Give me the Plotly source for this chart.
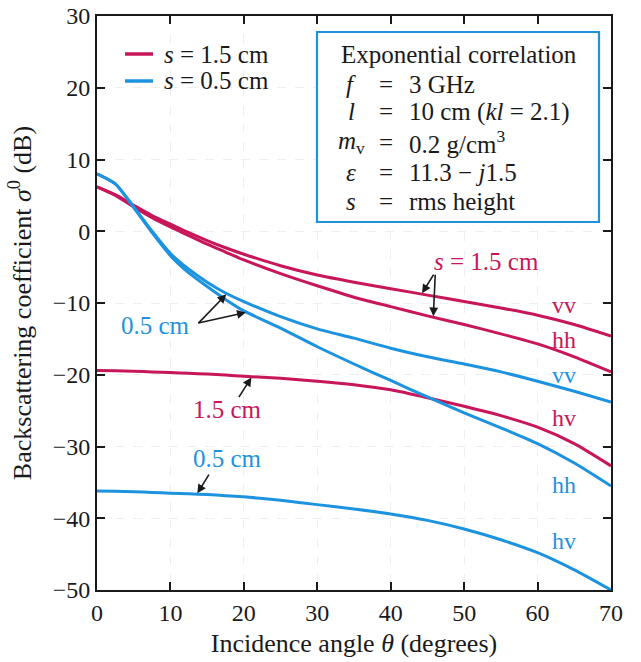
import numpy as np
import plotly.graph_objects as go

# Incidence angles (degrees) and backscattering coefficients (dB)
theta = [0, 2.5, 5, 7.5, 10, 12.5, 15, 17.5, 20, 25, 30, 35, 40, 45, 50, 55, 60, 65, 70]

# s = 1.5 cm
vv_15 = [6.2, 5.1, 3.6, 2.2, 1.0, -0.2, -1.3, -2.3, -3.2, -4.8, -6.1, -7.1, -8.0, -8.9, -9.8, -10.7, -11.7, -13.0, -14.6]
hh_15 = [6.2, 5.0, 3.4, 1.9, 0.6, -0.6, -1.8, -2.9, -4.0, -5.9, -7.6, -9.2, -10.5, -11.8, -13.0, -14.3, -15.7, -17.5, -19.6]
hv_15 = [-19.4, -19.45, -19.5, -19.6, -19.7, -19.8, -19.9, -20.05, -20.2, -20.5, -20.9, -21.4, -22.1, -23.2, -24.4, -25.7, -27.3, -29.6, -32.7]

# s = 0.5 cm
vv_05 = [8.0, 6.6, 3.4, 0.0, -3.1, -5.3, -7.1, -8.6, -9.8, -11.9, -13.6, -14.9, -16.3, -17.5, -18.5, -19.6, -20.9, -22.3, -23.8]
hh_05 = [8.0, 6.6, 3.3, -0.2, -3.4, -5.8, -7.7, -9.5, -11.1, -13.5, -16.1, -18.5, -20.8, -23.1, -25.3, -27.4, -29.6, -32.3, -35.5]
hv_05 = [-36.2, -36.25, -36.3, -36.4, -36.5, -36.6, -36.7, -36.85, -37.0, -37.5, -38.1, -38.7, -39.4, -40.3, -41.5, -43.0, -44.8, -47.2, -50.0]

x_ticks = [0, 10, 20, 30, 40, 50, 60, 70]
y_ticks = [-50, -40, -30, -20, -10, 0, 10, 20, 30]

RED = "#c8165a"
BLUE = "#1d93df"
INK = "#1a1a1a"
FONT = "Liberation Serif, Times New Roman, serif"
FS = 24
BOX_FS = 25

fig = go.Figure()

series = [
    (vv_15, RED), (hh_15, RED), (hv_15, RED),
    (vv_05, BLUE), (hh_05, BLUE), (hv_05, BLUE),
]
for vals, col in series:
    fig.add_trace(go.Scatter(
        x=theta, y=vals, mode="lines", showlegend=False,
        line=dict(color=col, width=3, shape="spline", smoothing=0.6),
    ))

annotations = []
shapes = []


def px_to_paper(px, py):
    # plot area spans 97..611 horizontally and 16..590 vertically
    return (px - 97) / 514, (590 - py) / 574


def paper_text(px, py, text, color=INK, xanchor="center", size=FS):
    x, y = px_to_paper(px, py)
    annotations.append(dict(x=x, y=y, xref="paper", yref="paper", text=text,
                            xanchor=xanchor, yanchor="middle", showarrow=False,
                            font=dict(family=FONT, size=size, color=color)))


# Legend (line swatches + labels)
for py, col, label in [(54, RED, "<i>s</i> = 1.5 cm"), (81, BLUE, "<i>s</i> = 0.5 cm")]:
    x0, y0 = px_to_paper(125, py)
    x1, _ = px_to_paper(153, py)
    shapes.append(dict(type="line", xref="paper", yref="paper", x0=x0, x1=x1, y0=y0, y1=y0,
                       line=dict(color=col, width=3.5)))
    paper_text(162, py, label, xanchor="left", size=BOX_FS)

# Polarization labels at the right end of the curves
for txt, col, yv in [("vv", RED, -10.3), ("hh", RED, -15.2), ("vv", BLUE, -20.0),
                     ("hv", RED, -26.0), ("hh", BLUE, -35.4), ("hv", BLUE, -43.2)]:
    annotations.append(dict(x=63.6, y=yv, text=txt, showarrow=False,
                            xanchor="center", yanchor="middle",
                            font=dict(family=FONT, size=FS, color=col)))

# Curve labels with pointer arrows
for xv, yv, txt, col in [(53.0, -4.2, "<i>s</i> = 1.5 cm", RED),
                         (7.9, -13.1, "0.5 cm", BLUE),
                         (17.8, -24.9, "1.5 cm", RED),
                         (17.8, -31.7, "0.5 cm", BLUE)]:
    annotations.append(dict(x=xv, y=yv, text=txt, showarrow=False,
                            xanchor="center", yanchor="middle",
                            font=dict(family=FONT, size=BOX_FS, color=col)))

arrows = [
    (44.2, vv_15, 13, -21),
    (45.8, hh_15, 2, -44),
    (17.7, vv_05, -30, 31),
    (20.4, hh_05, -50, 11),
    (21.1, hv_15, -14, 22),
    (13.6, hv_05, 13, -21),
]
for xa, vals, ax, ay in arrows:
    annotations.append(dict(x=xa, y=float(np.interp(xa, theta, vals)), ax=ax, ay=ay,
                            text="", showarrow=True, arrowhead=2, arrowsize=1.1,
                            arrowwidth=1.6, arrowcolor=INK, standoff=1))

# Parameter box
paper_text(459, 54, "Exponential correlation", size=BOX_FS)
rows = [
    ("<i>f</i>", "3 GHz"),
    ("<i>l</i>", "10 cm (<i>kl</i>\u00a0= 2.1)"),
    ("<i>m</i><sub>v</sub>", "0.2 g/cm<sup>3</sup>"),
    ("<i>ε</i>", "11.3 − <i>j</i>1.5"),
    ("<i>s</i>", "rms height"),
]
row_y = [84, 112, 142, 172, 201]
for (sym, val), ry in zip(rows, row_y):
    paper_text(351, ry, sym, size=BOX_FS)
    paper_text(386, ry, "=", size=BOX_FS)
    paper_text(407, ry, val, xanchor="left", size=BOX_FS)

bx0, by0 = px_to_paper(317, 222)
bx1, by1 = px_to_paper(599, 32)
shapes.append(dict(type="rect", xref="paper", yref="paper", x0=bx0, y0=by0, x1=bx1, y1=by1,
                   line=dict(color=BLUE, width=2.2), fillcolor="white", layer="above"))

axis_common = dict(
    showline=True, linecolor=INK, linewidth=2, mirror="ticks",
    ticks="inside", ticklen=8, tickwidth=2, tickcolor=INK,
    tickfont=dict(family=FONT, size=FS, color=INK),
    showgrid=True, gridcolor="#efefef", griddash="dash", gridwidth=1,
    zeroline=False, automargin=False,
)

fig.update_layout(
    width=641, height=662,
    margin=dict(l=97, r=30, t=16, b=72),
    paper_bgcolor="white", plot_bgcolor="white",
    showlegend=False,
    xaxis=dict(range=[0, 70], tickvals=x_ticks,
               title=dict(text="Incidence angle <i>θ</i> (degrees)", standoff=9,
                          font=dict(family=FONT, size=26, color=INK)),
               **axis_common),
    yaxis=dict(range=[-50, 30], tickvals=y_ticks,
               ticktext=[str(v).replace("-", "−") for v in y_ticks],
               title=dict(text="Backscattering coefficient <i>σ</i><sup>0</sup> (dB)", standoff=14,
                          font=dict(family=FONT, size=26, color=INK)),
               **axis_common),
    annotations=annotations,
    shapes=shapes,
)

fig.write_html("out.html")
